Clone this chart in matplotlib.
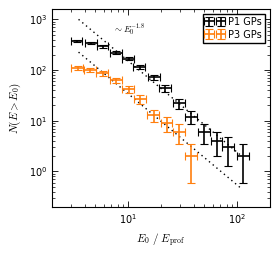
import numpy as np
import matplotlib
matplotlib.use("Agg")
import matplotlib.pyplot as plt

plt.rcParams.update({
    "font.family":       "DejaVu Sans",
    "font.size":         7,
    "mathtext.fontset":  "cm",
    "xtick.direction":   "in",
    "ytick.direction":   "in",
    "xtick.top":         True,
    "ytick.right":       True,
    "axes.linewidth":    0.8,
})

# P1 giant pulses
p1_x    = [3.38, 4.55, 5.86, 7.76, 10.1, 12.7, 17.3, 21.9, 29.5, 37.9, 50.1, 65.2, 83.2, 114.0]
p1_xerr = [0.42, 0.57, 0.73, 0.97, 1.25, 1.6, 2.15, 2.75, 3.7, 4.7, 6.3, 8.1, 10.4, 14.2]
p1_n    = [372, 340, 292, 220, 168, 115, 73, 44, 22, 12, 6, 4, 3, 2]
p1_nerr = [19.3, 18.4, 17.1, 14.8, 13.0, 10.7, 8.5, 6.6, 4.7, 3.5, 2.45, 2.0, 1.73, 1.41]

# P3 giant pulses
p3_x    = [3.43, 4.48, 5.81, 7.76, 10.1, 12.9, 17.1, 22.6, 29.5, 37.9]
p3_xerr = [0.43, 0.56, 0.73, 0.97, 1.25, 1.6, 2.15, 2.8, 3.7, 4.7]
p3_n    = [111, 102, 87, 63, 42, 27, 13, 9, 6, 2]
p3_nerr = [10.5, 10.1, 9.3, 7.9, 6.5, 5.2, 3.6, 3.0, 2.45, 1.41]

# power-law guides  N ~ A * E^-1.8
guide_x   = [3.5, 110.0]
guide_amp = [9530.0, 2150.0]
guide_idx = -1.8

fig = plt.figure(figsize=(2.8, 2.57), dpi=100)
ax = fig.add_axes([0.186, 0.195, 0.778, 0.77])

gx = np.geomspace(guide_x[0], guide_x[1], 60)
for amp in guide_amp:
    ax.plot(gx, amp * gx ** guide_idx, color="black", linestyle=(0, (1, 2.5)),
            linewidth=1.0)

ax.errorbar(p1_x, p1_n, xerr=p1_xerr, yerr=p1_nerr, fmt="none",
            ecolor="black", elinewidth=1.2, capsize=3, capthick=0.8,
            label="P1 GPs")
ax.errorbar(p3_x, p3_n, xerr=p3_xerr, yerr=p3_nerr, fmt="none",
            ecolor="#ff7f0e", elinewidth=1.2, capsize=3, capthick=0.8,
            label="P3 GPs")

ax.text(7.3, 600, r"$\sim E_0^{-1.8}$", fontsize=6.5, va="center", ha="left")

ax.set_xscale("log")
ax.set_yscale("log")
ax.set_xlim(2.0, 200)
ax.set_ylim(0.2, 1600)
ax.set_xlabel(r"$E_0\ /\ E_{\rm prof}$", fontsize=8)
ax.set_ylabel(r"$N(E>E_0)$", fontsize=8)
ax.tick_params(which="major", length=4, width=0.6, labelsize=7)
ax.tick_params(which="minor", length=2, width=0.5)

ax.legend(loc="upper right", fontsize=7, numpoints=2, fancybox=False,
          edgecolor="black", framealpha=1, handlelength=1.8,
          borderpad=0.3, labelspacing=0.3, handletextpad=0.5,
          borderaxespad=0.5)

fig.savefig("out.png", dpi=100, facecolor="white")
